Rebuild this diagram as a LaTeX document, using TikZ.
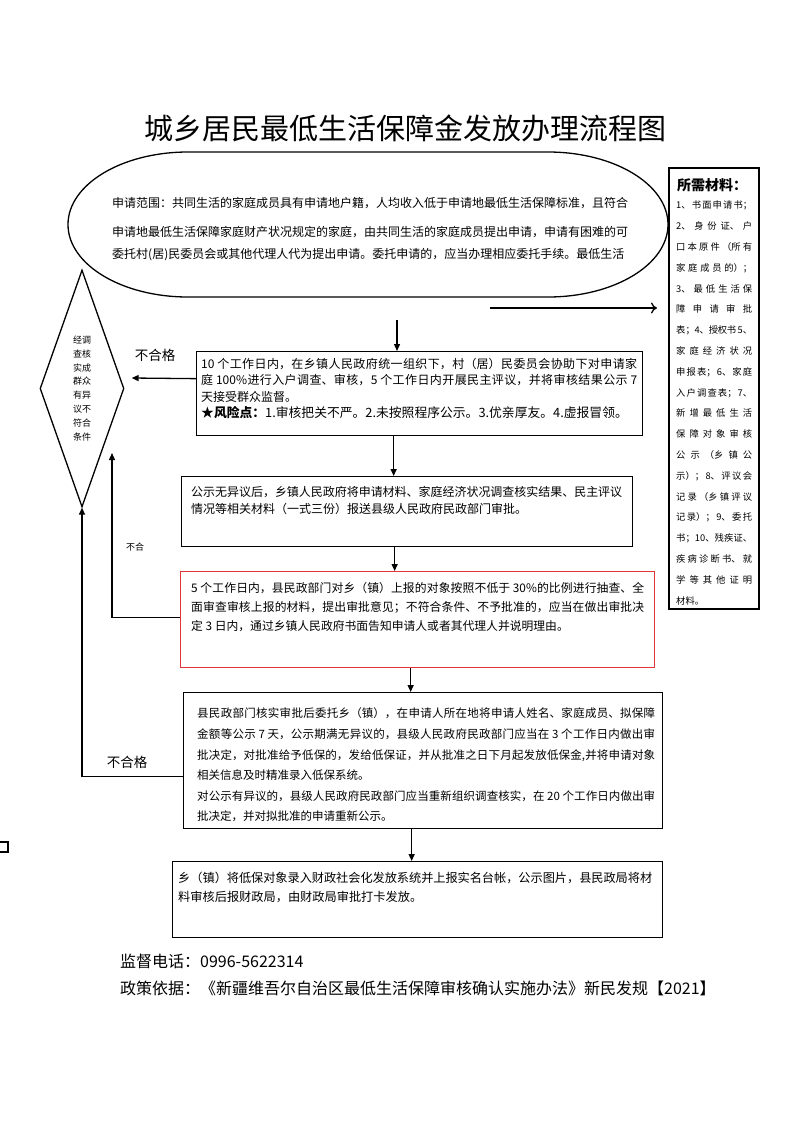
\documentclass[tikz,border=0pt]{standalone}
\usepackage{fontspec}
\setmainfont{Noto Sans CJK SC}
\usetikzlibrary{arrows.meta,shapes.geometric}
\XeTeXlinebreaklocale "zh"
\XeTeXlinebreakskip=0pt plus 3pt minus 0.3pt
\tolerance=10000
\hbadness=10000
\hfuzz=3pt
\newcommand{\fullline}[2]{\makebox[#1][s]{#2}}
\tikzset{
  box/.style={draw, line width=1.3pt, inner sep=0pt, anchor=north west},
  txt/.style={anchor=north west, inner sep=0pt, align=justify},
  arr/.style={line width=1.3pt, -{Triangle[length=7pt,width=6pt]}},
  oarr/.style={line width=1.3pt, -{To[length=6pt,width=11pt]}},
  lbl/.style={inner sep=0pt},
}
\definecolor{boxred}{RGB}{228,52,52}
\begin{document}
\begin{tikzpicture}[x=1pt,y=-1pt]
\useasboundingbox (0,0) rectangle (793,1122);
\fill[white] (0,0) rectangle (793,1122);

% title
\node[lbl, font=\fontsize{29}{34}\selectfont] (title) at (405,128) {城乡居民最低生活保障金发放办理流程图};

% top rounded shape
\draw[line width=1.3pt] (188,152) -- (548,152)
  arc[start angle=-90, end angle=90, x radius=120, y radius=72.5]
  -- (188,297)
  arc[start angle=90, end angle=270, x radius=120, y radius=72.5] -- cycle;
\node[lbl, anchor=west, font=\fontsize{12}{14}\selectfont] (el1) at (112,203) {\fullline{520pt}{申请范围：共同生活的家庭成员具有申请地户籍，人均收入低于申请地最低生活保障标准，且符合}};
\node[lbl, anchor=west, font=\fontsize{12}{14}\selectfont] (el2) at (112,232) {\fullline{520pt}{申请地最低生活保障家庭财产状况规定的家庭，由共同生活的家庭成员提出申请，申请有困难的可}};
\node[lbl, anchor=west, font=\fontsize{12}{14}\selectfont] (el3) at (112,255) {\fullline{520pt}{委托村(居)民委员会或其他代理人代为提出申请。委托申请的，应当办理相应委托手续。最低生活}};

% right materials box
\node[box, line width=2pt, minimum width=90pt, minimum height=441pt] (rb) at (668,167) {};
\node[lbl, anchor=west, font=\fontsize{14}{16}\selectfont\bfseries] (rbh) at (677,185) {所需材料：};
\node[txt, text width=76pt, font={\fontsize{9.3}{20.8}\selectfont\parindent=0pt}] (rbt) at (676,200.8) {1、书面申请书；\linebreak
2、身份证、户\linebreak
口本原件（所有\linebreak
家庭成员的）；\linebreak
3、最低生活保\linebreak
障申请审批\linebreak
表；4、授权书 5、\linebreak
家庭经济状况\linebreak
申报表；6、家庭\linebreak
入户调查表；7、\linebreak
新增最低生活\linebreak
保障对象审核\linebreak
公示（乡镇公\linebreak
示）；8、评议会\linebreak
记录（乡镇评议\linebreak
记录）；9、委托\linebreak
书；10、残疾证、\linebreak
疾病诊断书、就\linebreak
学等其他证明\linebreak
材料。};

% diamond
\node[draw, diamond, shape aspect=0.354, minimum width=84pt, minimum height=237pt, line width=1.3pt, inner sep=0pt, align=center, font=\fontsize{9}{13.9}\selectfont] (dia) at (82,388.5) {经调\\查核\\实成\\群众\\有异\\议不\\符合\\条件};

% boxes
\node[box, minimum width=446pt, minimum height=84pt] (b1) at (196,351) {};
\node[txt, text width=436pt, font={\fontsize{12}{16.3}\selectfont\parindent=0pt}] (b1t) at (201,358) {10 个工作日内，在乡镇人民政府统一组织下，村（居）民委员会协助下对申请家\linebreak
庭 100\%进行入户调查、审核，5 个工作日内开展民主评议，并将审核结果公示 7\linebreak
天接受群众监督。\newline
{\fontsize{12.8}{16.3}\selectfont\textbf{★风险点：}1.审核把关不严。2.未按照程序公示。3.优亲厚友。4.虚报冒领。}};

\node[box, minimum width=451pt, minimum height=70pt] (b2) at (181,476) {};
\node[txt, text width=431pt, font={\fontsize{12}{17.5}\selectfont\parindent=0pt}] (b2t) at (191,485.6) {公示无异议后，乡镇人民政府将申请材料、家庭经济状况调查核实结果、民主评议\linebreak
情况等相关材料（一式三份）报送县级人民政府民政部门审批。};

\node[box, draw=boxred, minimum width=474pt, minimum height=96pt] (b3) at (180,571) {};
\node[txt, text width=453pt, font={\fontsize{11.8}{19}\selectfont\parindent=0pt}] (b3t) at (191,581.7) {5 个工作日内，县民政部门对乡（镇）上报的对象按照不低于 30\%的比例进行抽查、全\linebreak
面审查审核上报的材料，提出审批意见；不符合条件、不予批准的，应当在做出审批决\linebreak
定 3 日内，通过乡镇人民政府书面告知申请人或者其代理人并说明理由。};

\node[box, minimum width=479pt, minimum height=136pt] (b4) at (183,692) {};
\node[txt, text width=458pt, font={\fontsize{11.5}{20.6}\selectfont\parindent=0pt}] (b4t) at (197,707.8) {县民政部门核实审批后委托乡（镇），在申请人所在地将申请人姓名、家庭成员、拟保障\linebreak
金额等公示 7 天，公示期满无异议的，县级人民政府民政部门应当在 3 个工作日内做出审\linebreak
批决定，对批准给予低保的，发给低保证，并从批准之日下月起发放低保金,并将申请对象\linebreak
相关信息及时精准录入低保系统。\newline
对公示有异议的，县级人民政府民政部门应当重新组织调查核实，在 20 个工作日内做出审\linebreak
批决定，并对拟批准的申请重新公示。};

\node[box, minimum width=490pt, minimum height=76pt] (b5) at (172,861) {};
\node[txt, text width=474pt, font={\fontsize{12.2}{19}\selectfont\parindent=0pt}] (b5t) at (178,871.5) {乡（镇）将低保对象录入财政社会化发放系统并上报实名台帐，公示图片，县民政局将材\linebreak
料审核后报财政局，由财政局审批打卡发放。};

% labels
\node[lbl, font=\fontsize{13.5}{16}\selectfont] (ng1) at (155,355) {不合格};
\node[lbl, font=\fontsize{9}{11}\selectfont] (ng2) at (135,547) {不合};
\node[lbl, font=\fontsize{13.5}{16}\selectfont] (ng3) at (127,762) {不合格};

% bottom text
\node[lbl, anchor=west, font=\fontsize{16}{19}\selectfont] (tel) at (120,961) {监督电话：0996-5622314};
\node[lbl, anchor=west, font=\fontsize{16}{19}\selectfont] (pol) at (120,988) {政策依据：《新疆维吾尔自治区最低生活保障审核确认实施办法》新民发规【2021】};

% connectors
\coordinate (a0) at (490,308);
\draw[oarr] (a0) -- ([xshift=-11pt]rb.west |- a0);
\coordinate (a1) at (397,320);
\draw[arr] (a1) -- (a1 |- b1.north);
\draw[arr] ([xshift=-26pt]b1.south) -- ([xshift=-26pt]b1.south |- b2.north);
\draw[arr] ([xshift=-12.5pt]b2.south) -- ([xshift=-12.5pt]b2.south |- b3.north);
\draw[arr] ([xshift=-7pt]b3.south) -- ([xshift=-7pt]b3.south |- b4.north);
\draw[arr] ([xshift=-11.5pt]b4.south) -- ([xshift=-11.5pt]b4.south |- b5.north);

\draw[arr] ([yshift=15pt]b1.west) -- ([xshift=7pt,yshift=10.5pt]dia.east);
\coordinate (t2) at (112,453);
\draw[arr] ([yshift=2pt]b3.west) -| (t2);
\draw[arr] ([yshift=-16pt]b4.west) -| (dia.south);

% clipped mark at left edge
\draw[line width=1.2pt] (0,842) -- (8,842) -- (8,852) -- (0,852);
\end{tikzpicture}
\end{document}
